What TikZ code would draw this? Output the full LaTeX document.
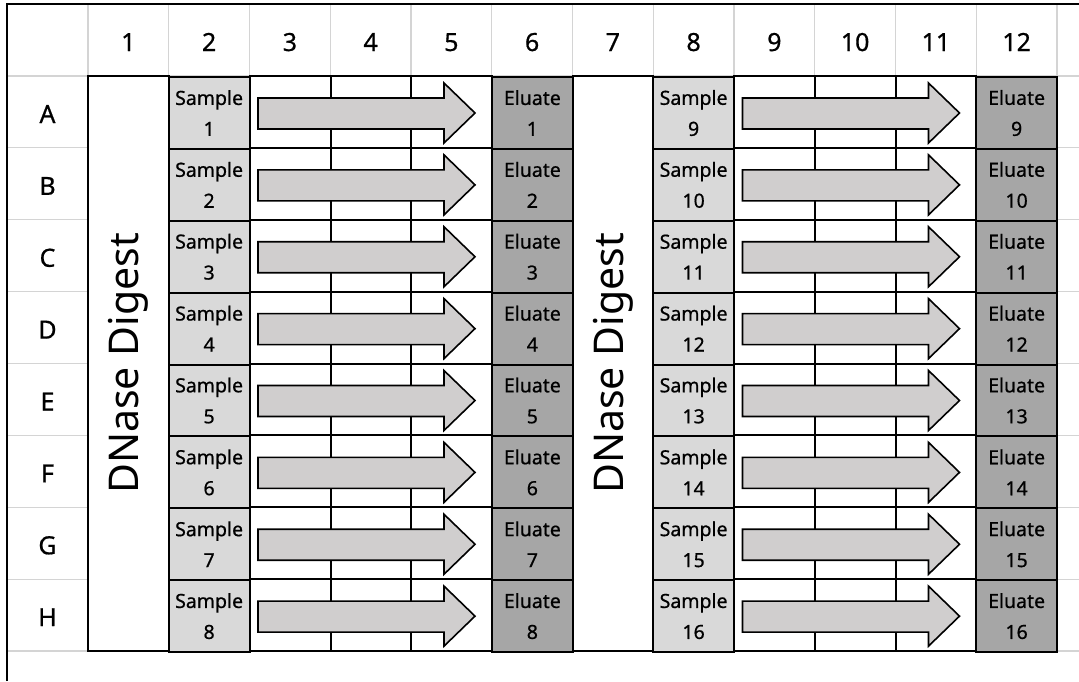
\documentclass[tikz,border=0pt]{standalone}
\usepackage{fontspec}
\setmainfont{Noto Sans}[BoldFont={Noto Sans}, BoldFeatures={FakeBold=0.7}]
\definecolor{gridgrey}{HTML}{D4D4D4}
\definecolor{samplefill}{HTML}{D9D9D9}
\definecolor{eluatefill}{HTML}{A6A6A6}
\definecolor{arrowfill}{HTML}{D0CECE}
\begin{document}
\begin{tikzpicture}[x=1pt,y=-1pt,
  gridline/.style={draw=gridgrey,line width=1.2pt},
  platecell/.style={draw=black,line width=2pt,minimum width=80.75pt,minimum height=71.875pt,
    inner sep=0pt,outer sep=0pt,align=center,font=\fontsize{19.5}{31}\selectfont\bfseries},
  samplecell/.style={platecell,fill=samplefill},
  eluatecell/.style={platecell,fill=eluatefill},
  emptycell/.style={platecell,fill=white},
  digestcell/.style={draw=black,line width=2pt,fill=white,minimum width=80.75pt,minimum height=575pt,
    inner sep=0pt,outer sep=0pt},
  digesttext/.style={rotate=90,font=\fontsize{41}{48}\selectfont,inner sep=0pt},
  headlab/.style={font=\fontsize{25}{28}\selectfont\bfseries,inner sep=0pt,anchor=base},
  blockarrow/.style={draw=black,line width=1.6pt,fill=arrowfill,line join=miter}
]
\useasboundingbox (0,0) rectangle (1079,681);
\fill[white] (0,0) rectangle (1079,681);
% grey grid
\foreach \c in {0,...,12} {
  \draw[gridline] (88+\c*80.75,4) -- (88+\c*80.75,76);
}
\foreach \j in {0,...,8} {
  \draw[gridline] (7,76+\j*71.875) -- (88,76+\j*71.875);
  \draw[gridline] (1057,76+\j*71.875) -- (1079,76+\j*71.875);
}
\draw[gridline] (88,76) -- (1057,76);
% outer border
\draw[black,line width=2.5pt] (7,681) -- (7,4) -- (1079,4);
% column headers
\foreach \c in {1,...,12} {
  \node[headlab] (col\c) at (88+\c*80.75-40.375,51) {\c};
}
% DNase digest columns
\node[digestcell] (dn1) at (128.375,363.5) {};
\node[digesttext] (dnt1) at (dn1.center) {DNase Digest};
\node[digestcell] (dn7) at (612.875,363.5) {};
\node[digesttext] (dnt7) at (dn7.center) {DNase Digest};
% rows
\foreach \lab [count=\i from 0] in {A,B,C,D,E,F,G,H} {
  \pgfmathsetmacro{\T}{76+\i*71.875}
  \pgfmathtruncatemacro{\ns}{\i+1}
  \pgfmathtruncatemacro{\nt}{\i+9}
  \node[headlab] (row\lab) at (47.5,\T+47) {\lab};
  \node[samplecell] (s\lab) at (209.125,\T+37) {Sample\\\ns};
  \node[emptycell] (a\lab3) at (290.125,\T+35.94) {};
  \node[emptycell] (a\lab4) at (370.875,\T+35.94) {};
  \node[emptycell] (a\lab5) at (451.625,\T+35.94) {};
  \node[eluatecell] (e\lab) at (532.375,\T+37) {Eluate\\\ns};
  \node[samplecell] (t\lab) at (693.625,\T+37) {Sample\\\nt};
  \node[emptycell] (b\lab9) at (774.375,\T+35.94) {};
  \node[emptycell] (b\lab10) at (855.125,\T+35.94) {};
  \node[emptycell] (b\lab11) at (935.875,\T+35.94) {};
  \node[eluatecell] (f\lab) at (1016.625,\T+37) {Eluate\\\nt};
  \foreach \xa in {250,734.5} {
    \draw[blockarrow] (\xa+8,\T+22) -- (\xa+194,\T+22) -- (\xa+194,\T+7) -- (\xa+225,\T+37)
      -- (\xa+194,\T+67) -- (\xa+194,\T+53) -- (\xa+8,\T+53) -- cycle;
  }
}
\end{tikzpicture}
\end{document}
